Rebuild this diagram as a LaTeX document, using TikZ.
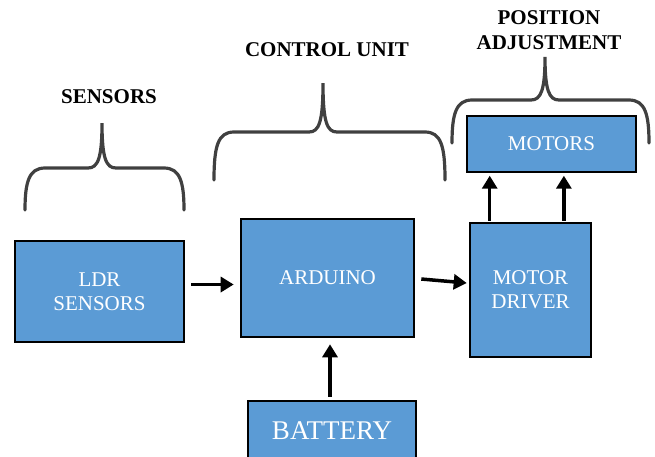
\documentclass[tikz,border=0pt]{standalone}
\usepackage{fontspec}
\setmainfont{Liberation Serif}
\usepackage{tikz}
\usetikzlibrary{arrows.meta,calc}
\definecolor{boxblue}{HTML}{5B9BD5}
\definecolor{bracegray}{HTML}{404040}

\begin{document}
\begin{tikzpicture}[x=1pt,y=-1pt,>={Triangle[length=13pt,width=15pt]},
  block/.style={draw=black,fill=boxblue,line width=2.6pt,inner sep=0pt,text=white,align=center,font=\fontsize{21}{24}\selectfont},
  heading/.style={font=\fontsize{21}{25}\selectfont\bfseries,align=center},
  arr/.style={->,line width=3.5pt},
  brace/.style={draw=bracegray,line width=3.2pt,line cap=round}]
\useasboundingbox (0,0) rectangle (655,456);
% blocks
\node[block,minimum width=169pt,minimum height=101pt] (ldr) at (99.5,291.5) {LDR\\SENSORS};
\node[block,minimum width=173pt,minimum height=118pt] (arduino) at (327.5,278) {ARDUINO};
\node[block,minimum width=121pt,minimum height=134pt] (driver) at (530.5,290) {MOTOR\\DRIVER};
\node[block,minimum width=169pt,minimum height=56pt] (motors) at (551.5,144) {MOTORS};
\node[block,minimum width=168pt,minimum height=59pt,font=\fontsize{27}{30}\selectfont] (battery) at (332,430.5) {BATTERY};
% headings
\node[heading] (sensorslbl) at (109,97) {SENSORS};
\node[heading] (controllbl) at (327,50) {CONTROL UNIT};
\node[heading] (positionlbl) at (549,30) {POSITION\\ADJUSTMENT};
% braces
\foreach \l/\r/\c/\b/\h/\t in {25/184/102/210/168/123, 214/445/323/180/132/83, 452/649/545/143/100/57}
  \draw[brace] (\l,\b) .. controls (\l,\h+14) and (\l+4,\h) .. (\l+20,\h)
    -- (\c-14,\h) .. controls (\c-4,\h) and (\c,\h-10) .. (\c,\t)
    .. controls (\c,\h-10) and (\c+4,\h) .. (\c+14,\h)
    -- (\r-20,\h) .. controls (\r-4,\h) and (\r,\h+14) .. (\r,\b);
% connectors
\draw[arr] ($(ldr.east)+(6,-7)$) -- ($(ldr.east -| arduino.west)+(-6,-7)$);
\draw[arr] ($(arduino.east)+(6,1)$) -- ($(driver.west)+(-2,-7)$);
\draw[arr] ($(battery.north)+(-2,-3)$) -- ($(battery.north |- arduino.south)+(-2,6)$);
\draw[arr] ($(driver.north west)!0.17!(driver.north east)+(0,-1)$) -- ($(driver.north west)!0.17!(driver.north east)+(0,-46)$);
\draw[arr] ($(driver.north west)!0.77!(driver.north east)+(0,-1)$) -- ($(driver.north west)!0.77!(driver.north east)+(0,-46)$);
\end{tikzpicture}
\end{document}
